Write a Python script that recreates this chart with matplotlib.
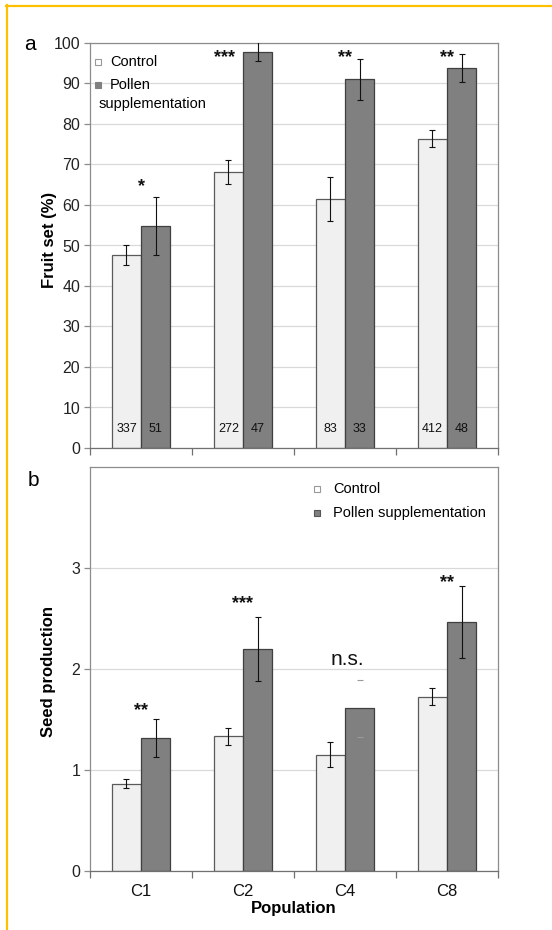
import matplotlib
matplotlib.use("Agg")
import matplotlib.pyplot as plt
from matplotlib.lines import Line2D
import numpy as np

plt.rcParams['font.family'] = ['Liberation Sans', 'DejaVu Sans']

populations = ["C1", "C2", "C4", "C8"]

# Fruit set (%)
fruit_control = [47.7, 68.2, 61.5, 76.4]
fruit_control_err = [2.5, 2.9, 5.4, 2.0]
fruit_pollen = [54.8, 97.9, 91.0, 93.8]
fruit_pollen_err = [7.2, 2.4, 5.1, 3.5]
n_control = ["337", "272", "83", "412"]
n_pollen = ["51", "47", "33", "48"]
fruit_sig = ["*", "***", "**", "**"]

# Seed production
seed_control = [0.864, 1.334, 1.152, 1.725]
seed_control_err = [0.045, 0.085, 0.125, 0.085]
seed_pollen = [1.317, 2.195, 1.609, 2.466]
seed_pollen_err = [0.185, 0.315, 0.28, 0.36]
seed_sig = ["**", "***", "n.s.", "**"]

C_CTRL = "#f0f0f0"
C_POLL = "#808080"
E_CTRL = "#5a5a5a"
E_POLL = "#404040"
SPINE = "#8c8c8c"
GRID = "#d9d9d9"
W = 0.285

W_PX, H_PX = 552, 930
fig = plt.figure(figsize=(W_PX / 100, H_PX / 100), dpi=100)


def px_axes(left, top, right, bottom):
    return fig.add_axes([left / W_PX, 1 - bottom / H_PX,
                         (right - left) / W_PX, (bottom - top) / H_PX])


def style(ax, ymax, yticks, labels):
    ax.set_xlim(-0.5, 3.5)
    ax.set_ylim(0, ymax)
    ax.set_yticks(yticks)
    ax.set_yticklabels(labels)
    for s in ax.spines.values():
        s.set_color(SPINE)
        s.set_linewidth(0.9)
    ax.spines['bottom'].set_color("#707070")
    ax.tick_params(axis='y', direction='out', length=4, width=0.9,
                   color=SPINE, labelsize=11.5, labelcolor="#222222", pad=3)
    ax.set_xticks(np.arange(-0.5, 3.6, 1.0), minor=True)
    ax.tick_params(axis='x', which='minor', direction='out', length=5,
                   width=0.9, color="#707070")
    ax.set_axisbelow(True)


def draw_bars(ax, ctrl, ctrl_err, poll, poll_err, skip_line=None):
    x = np.arange(len(populations))
    ax.bar(x - W / 2, ctrl, W, color=C_CTRL, edgecolor=E_CTRL, linewidth=0.9, zorder=2)
    ax.bar(x + W / 2, poll, W, color=C_POLL, edgecolor=E_POLL, linewidth=0.9, zorder=2)
    ax.errorbar(x - W / 2, ctrl, yerr=ctrl_err, fmt='none', ecolor='#111111',
                elinewidth=0.8, capsize=2, capthick=0.8, zorder=3)
    for i in range(len(populations)):
        eb = ax.errorbar([x[i] + W / 2], [poll[i]], yerr=[poll_err[i]], fmt='none',
                         ecolor='#111111' if i != skip_line else '#9a9a9a',
                         elinewidth=0.8, capsize=2, capthick=0.8, zorder=3)
        if i == skip_line:
            eb.lines[2][0].set_visible(False)


def ax_frac(ax_left, ax_top, ax_w, ax_h, px, py):
    return ((px - ax_left) / ax_w, 1 - (py - ax_top) / ax_h)


# ---- panel a: fruit set ----
ax1 = px_axes(90, 43, 498, 448)
style(ax1, 100, np.arange(0, 101, 10), [str(v) for v in range(0, 101, 10)])
ax1.yaxis.grid(True, color=GRID, linewidth=0.9)
ax1.set_xticks(np.arange(4))
ax1.tick_params(axis='x', which='major', length=0, labelbottom=False)
draw_bars(ax1, fruit_control, fruit_control_err, fruit_pollen, fruit_pollen_err)
for i in range(4):
    ax1.text(i - W / 2, 4.6, n_control[i], ha='center', va='center', fontsize=9, color="#111111", zorder=4)
    ax1.text(i + W / 2, 4.6, n_pollen[i], ha='center', va='center', fontsize=9, color="#111111", zorder=4)
fruit_sig_x = [0, 0.82, 2, 3]
fruit_sig_y = [63.5, 95.2, 95.2, 95.2]
for xs, ys, s in zip(fruit_sig_x, fruit_sig_y, fruit_sig):
    ax1.text(xs, ys, s, ha='center', va='baseline', fontsize=13, fontweight='bold', color="#111111")
ax1.set_ylabel("Fruit set (%)", fontsize=12, fontweight='bold')
ax1.yaxis.set_label_coords(-0.082, 0.514)

# legend a
lg = ax1.transAxes
fx, fy = ax_frac(90, 43, 408, 405, 98, 62)
ax1.plot([fx], [fy], marker='s', ms=4.5, mfc='white', mec='#999999', mew=0.8, transform=lg, clip_on=False)
ax1.text(*ax_frac(90, 43, 408, 405, 110, 62), "Control", transform=lg, fontsize=10.5, va='center', ha='left')
fx, fy = ax_frac(90, 43, 408, 405, 98, 85)
ax1.plot([fx], [fy], marker='s', ms=4.5, mfc=C_POLL, mec=C_POLL, mew=0.8, transform=lg, clip_on=False)
ax1.text(*ax_frac(90, 43, 408, 405, 110, 85), "Pollen", transform=lg, fontsize=10.5, va='center', ha='left')
ax1.text(*ax_frac(90, 43, 408, 405, 99, 104), "supplementation", transform=lg, fontsize=10.5, va='center', ha='left')

# ---- panel b: seed production ----
ax2 = px_axes(90, 467, 498, 871)
style(ax2, 4, [0, 1, 2, 3], ["0", "1", "2", "3"])
ax2.yaxis.grid(True, color=GRID, linewidth=0.9)
ax2.set_xticks(np.arange(4))
ax2.set_xticklabels(populations)
ax2.tick_params(axis='x', which='major', length=0, labelsize=12, pad=9, labelcolor="#111111")
draw_bars(ax2, seed_control, seed_control_err, seed_pollen, seed_pollen_err, skip_line=2)
seed_sig_x = [0, 1, 2.02, 3]
seed_sig_y = [1.54, 2.60, 2.04, 2.81]
for xs, ys, s in zip(seed_sig_x, seed_sig_y, seed_sig):
    if s == "n.s.":
        ax2.text(xs, ys, s, ha='center', va='baseline', fontsize=15, color="#111111")
    else:
        ax2.text(xs, ys, s, ha='center', va='baseline', fontsize=13, fontweight='bold', color="#111111")
ax2.set_ylabel("Seed production", fontsize=12, fontweight='bold')
ax2.yaxis.set_label_coords(-0.083, 0.493)
ax2.set_xlabel("Population", fontsize=12, fontweight='bold', labelpad=2)

lg2 = ax2.transAxes
fx, fy = ax_frac(90, 467, 408, 404, 317, 489)
ax2.plot([fx], [fy], marker='s', ms=4.5, mfc='white', mec='#999999', mew=0.8, transform=lg2, clip_on=False)
ax2.text(*ax_frac(90, 467, 408, 404, 333, 489), "Control", transform=lg2, fontsize=10.5, va='center', ha='left')
fx, fy = ax_frac(90, 467, 408, 404, 317, 513)
ax2.plot([fx], [fy], marker='s', ms=4.5, mfc=C_POLL, mec='#555555', mew=0.8, transform=lg2, clip_on=False)
ax2.text(*ax_frac(90, 467, 408, 404, 333, 513), "Pollen supplementation", transform=lg2, fontsize=10.5, va='center', ha='left')

# panel letters
fig.text(30 / W_PX, 1 - 45 / H_PX, "a", fontsize=15, ha='center', va='center')
fig.text(33 / W_PX, 1 - 480 / H_PX, "b", fontsize=15, ha='center', va='center')

# frame lines
fig.add_artist(Line2D([6 / W_PX, 1.0], [1 - 6 / H_PX, 1 - 6 / H_PX], color="#ffc000", lw=1.6, transform=fig.transFigure))
fig.add_artist(Line2D([7 / W_PX, 7 / W_PX], [1 - 5 / H_PX, 0.0], color="#ffc000", lw=1.6, transform=fig.transFigure))

fig.savefig("out.png", dpi=100)
